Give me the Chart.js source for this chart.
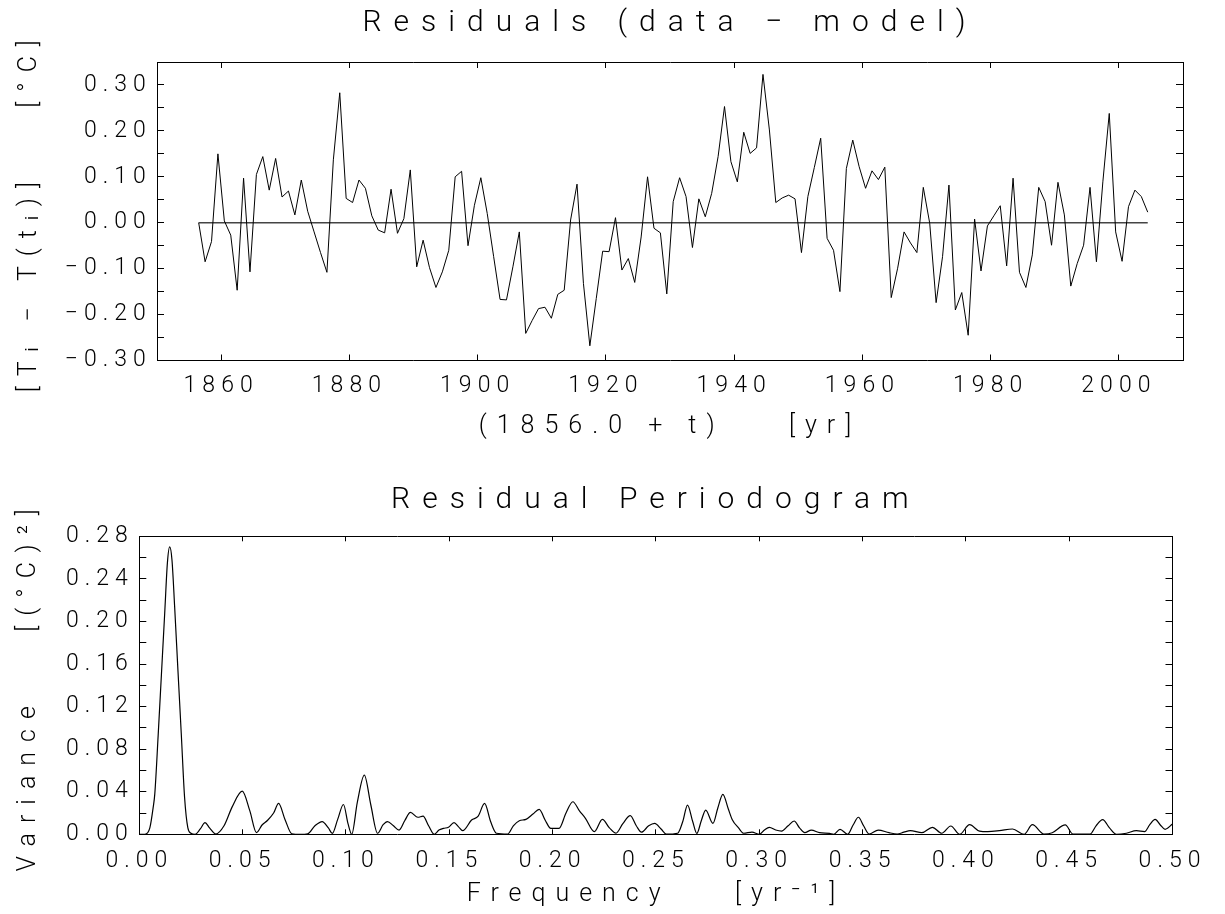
<!DOCTYPE html>
<html><head><meta charset="utf-8">
<script src="https://cdn.jsdelivr.net/npm/chart.js@4"></script>
<style>
html,body{margin:0;padding:0;background:#fff;}
#wrap{position:relative;width:1225px;height:914px;background:#fff;}
canvas{position:absolute;left:0;}
#c1{top:0;} #c2{top:450px;}
</style></head><body>
<div id="wrap"><canvas id="c1" width="1225" height="450"></canvas><canvas id="c2" width="1225" height="464"></canvas></div>
<script>
// ---------- data: top panel ----------
const years = [
1856.5,1857.5,1858.5,1859.5,
1860.5,1861.5,1862.5,1863.5,1864.5,1865.5,1866.5,1867.5,1868.5,1869.5,
1870.5,1871.5,1872.5,1873.5,1874.5,1875.5,1876.5,1877.5,1878.5,1879.5,
1880.5,1881.5,1882.5,1883.5,1884.5,1885.5,1886.5,1887.5,1888.5,1889.5,
1890.5,1891.5,1892.5,1893.5,1894.5,1895.5,1896.5,1897.5,1898.5,1899.5,
1900.5,1901.5,1902.5,1903.5,1904.5,1905.5,1906.5,1907.5,1908.5,1909.5,
1910.5,1911.5,1912.5,1913.5,1914.5,1915.5,1916.5,1917.5,1918.5,1919.5,
1920.5,1921.5,1922.5,1923.5,1924.5,1925.5,1926.5,1927.5,1928.5,1929.5,
1930.5,1931.5,1932.5,1933.5,1934.5,1935.5,1936.5,1937.5,1938.5,1939.5,
1940.5,1941.5,1942.5,1943.5,1944.5,1945.5,1946.5,1947.5,1948.5,1949.5,
1950.5,1951.5,1952.5,1953.5,1954.5,1955.5,1956.5,1957.5,1958.5,1959.5,
1960.5,1961.5,1962.5,1963.5,1964.5,1965.5,1966.5,1967.5,1968.5,1969.5,
1970.5,1971.5,1972.5,1973.5,1974.5,1975.5,1976.5,1977.5,1978.5,1979.5,
1980.5,1981.5,1982.5,1983.5,1984.5,1985.5,1986.5,1987.5,1988.5,1989.5,
1990.5,1991.5,1992.5,1993.5,1994.5,1995.5,1996.5,1997.5,1998.5,1999.5,
2000.5,2001.5,2002.5,2003.5,2004.5];
const residuals = [
0.000,-0.085,-0.041,0.150,
0.004,-0.027,-0.147,0.097,-0.107,0.105,0.144,0.071,0.140,0.056,
0.069,0.017,0.093,0.025,-0.020,-0.065,-0.108,0.137,0.283,0.053,
0.044,0.093,0.075,0.015,-0.016,-0.022,0.073,-0.023,0.009,0.115,
-0.096,-0.038,-0.098,-0.141,-0.107,-0.060,0.100,0.112,-0.050,0.038,
0.098,0.020,-0.074,-0.167,-0.168,-0.096,-0.020,-0.241,-0.213,-0.187,
-0.184,-0.208,-0.156,-0.147,0.006,0.084,-0.132,-0.268,-0.165,-0.062,
-0.063,0.011,-0.103,-0.078,-0.130,-0.031,0.100,-0.012,-0.022,-0.155,
0.046,0.098,0.057,-0.054,0.052,0.013,0.064,0.144,0.253,0.133,
0.089,0.197,0.151,0.163,0.323,0.202,0.044,0.054,0.060,0.052,
-0.065,0.057,0.120,0.184,-0.034,-0.060,-0.150,0.118,0.180,0.122,
0.075,0.113,0.094,0.121,-0.163,-0.099,-0.020,-0.044,-0.065,0.077,
-0.001,-0.174,-0.074,0.082,-0.190,-0.152,-0.245,0.008,-0.105,-0.007,
0.015,0.037,-0.094,0.097,-0.108,-0.141,-0.070,0.077,0.046,-0.049,
0.088,0.017,-0.138,-0.089,-0.049,0.077,-0.085,0.089,0.238,-0.020,
-0.084,0.035,0.071,0.057,0.023];
const zeroLineX = [1856.5, 2004.5];
const zeroLineY = [0, 0];
const xTicksTop = [1860,1880,1900,1920,1940,1960,1980,2000];
const yTicksTop = [-0.30,-0.25,-0.20,-0.15,-0.10,-0.05,0.00,0.05,0.10,0.15,0.20,0.25,0.30,0.35];
const yLabelsTop = [-0.30,-0.20,-0.10,0.00,0.10,0.20,0.30];

// ---------- data: bottom panel ----------
const freqs = [
0.0000,0.0027,0.0051,0.0067,0.0075,0.0091,0.0107,0.0123,0.0136,0.0147,
0.0158,0.0171,0.0187,0.0203,0.0219,0.0235,0.0250,0.0270,0.0295,0.0318,
0.0340,0.0370,0.0410,0.0450,0.0498,0.0535,0.0567,0.0595,0.0620,0.0650,
0.0674,0.0705,0.0738,0.0780,0.0815,0.0850,0.0885,0.0915,0.0934,0.0960,
0.0988,0.1010,0.1028,0.1055,0.1089,0.1120,0.1153,0.1180,0.1201,0.1230,
0.1257,0.1285,0.1312,0.1348,0.1373,0.1400,0.1427,0.1450,0.1472,0.1496,
0.1523,0.1545,0.1565,0.1608,0.1640,0.1671,0.1700,0.1728,0.1783,0.1810,
0.1839,0.1871,0.1905,0.1935,0.1965,0.1991,0.2031,0.2065,0.2098,0.2130,
0.2159,0.2202,0.2241,0.2275,0.2307,0.2340,0.2376,0.2405,0.2430,0.2465,
0.2494,0.2525,0.2550,0.2605,0.2630,0.2653,0.2678,0.2698,0.2720,0.2741,
0.2776,0.2800,0.2824,0.2850,0.2869,0.2900,0.2925,0.2965,0.3001,0.3025,
0.3049,0.3080,0.3108,0.3140,0.3169,0.3195,0.3220,0.3252,0.3292,0.3340,
0.3360,0.3391,0.3428,0.3455,0.3480,0.3505,0.3532,0.3576,0.3628,0.3668,
0.3700,0.3731,0.3787,0.3838,0.3883,0.3927,0.3970,0.4018,0.4066,0.4106,
0.4162,0.4226,0.4282,0.4322,0.4378,0.4418,0.4481,0.4518,0.4601,0.4630,
0.4662,0.4695,0.4729,0.4777,0.4825,0.4865,0.4890,0.4916,0.4940,0.4964,
0.5000];
const variance = [
0.0000,0.0000,0.0060,0.0250,0.0380,0.0920,0.1500,0.2080,0.2550,0.2700,
0.2580,0.2140,0.1540,0.0950,0.0350,0.0060,0.0010,0.0000,0.0050,0.0110,
0.0060,0.0003,0.0080,0.0260,0.0406,0.0220,0.0016,0.0090,0.0130,0.0200,
0.0290,0.0140,0.0005,0.0000,0.0005,0.0080,0.0120,0.0060,0.0008,0.0140,
0.0280,0.0100,0.0000,0.0300,0.0556,0.0280,0.0010,0.0090,0.0120,0.0080,
0.0040,0.0130,0.0206,0.0160,0.0170,0.0080,0.0000,0.0040,0.0056,0.0066,
0.0110,0.0070,0.0034,0.0134,0.0170,0.0290,0.0120,0.0010,0.0003,0.0080,
0.0128,0.0140,0.0190,0.0234,0.0130,0.0056,0.0056,0.0200,0.0306,0.0220,
0.0150,0.0025,0.0140,0.0060,0.0010,0.0100,0.0175,0.0080,0.0020,0.0080,
0.0103,0.0050,0.0002,0.0010,0.0120,0.0275,0.0120,0.0008,0.0130,0.0228,
0.0103,0.0250,0.0375,0.0240,0.0140,0.0060,0.0010,0.0020,0.0000,0.0040,
0.0066,0.0040,0.0030,0.0080,0.0125,0.0060,0.0015,0.0040,0.0015,0.0008,
0.0000,0.0047,0.0000,0.0090,0.0160,0.0080,0.0003,0.0040,0.0015,0.0003,
0.0020,0.0034,0.0015,0.0066,0.0010,0.0078,0.0000,0.0090,0.0030,0.0025,
0.0034,0.0050,0.0000,0.0090,0.0003,0.0015,0.0088,0.0003,0.0003,0.0080,
0.0138,0.0060,0.0000,0.0010,0.0034,0.0025,0.0090,0.0140,0.0090,0.0047,
0.0097];
const xTicksBottom = [0.00,0.05,0.10,0.15,0.20,0.25,0.30,0.35,0.40,0.45,0.50];
const yTicksBottom = [0.00,0.02,0.04,0.06,0.08,0.10,0.12,0.14,0.16,0.18,0.20,0.22,0.24,0.26,0.28];
const yLabelsBottom = [0.00,0.04,0.08,0.12,0.16,0.20,0.24,0.28];

// ---------- styling / helpers ----------
const FONT = "Roboto, 'DejaVu Sans', 'Liberation Sans', sans-serif";
Chart.defaults.font.family = FONT;
Chart.defaults.font.weight = '300';
Chart.defaults.color = '#000';

const TICK_LS = '6px', AXT_LS = '10px', TITLE_LS = '12px';
const spacingPlugin = {
  id: 'spacing',
  beforeUpdate(chart) { chart.ctx.letterSpacing = TICK_LS; },
  beforeDraw(chart) {
    const ctx = chart.ctx;
    ctx.letterSpacing = TICK_LS;
    const tb = chart.titleBlock;
    if (tb && !tb._lsPatched) {
      const orig = tb.draw.bind(tb);
      tb.draw = function(a) { ctx.letterSpacing = TITLE_LS; orig(a); ctx.letterSpacing = TICK_LS; };
      tb._lsPatched = true;
    }
    Object.values(chart.scales).forEach(s => {
      if (!s._lsPatched) {
        const orig = s.drawTitle.bind(s);
        s.drawTitle = function() { ctx.letterSpacing = AXT_LS; orig(); ctx.letterSpacing = TICK_LS; };
        s._lsPatched = true;
      }
    });
  }
};

const fmt = v => (v < -1e-9 ? '\u2212' : '') + Math.abs(v).toFixed(2);
const inList = (list, v) => list.some(l => Math.abs(l - v) < 1e-9);
const setTicks = arr => s => { s.ticks = arr.map(v => ({value: v})); };

function gridOpts(len) {
  return {drawOnChartArea: false, drawTicks: true, tickLength: -len, tickColor: '#000', tickWidth: 1};
}
const borderOpts = {display: true, color: '#000', width: 1};
const TICK_FONT = {size: 23};
const AXT_FONT = {size: 25};
const TITLE_FONT = {size: 30, weight: '300', lineHeight: 1.2};

// ---------- top chart ----------
new Chart(document.getElementById('c1'), {
  type: 'line',
  data: {
    datasets: [
      {data: years.map((x, i) => ({x: x, y: residuals[i]})), borderColor: '#000', borderWidth: 1, pointRadius: 0, tension: 0, fill: false},
      {data: zeroLineX.map((x, i) => ({x: x, y: zeroLineY[i]})), borderColor: '#444', borderWidth: 1.3, pointRadius: 0, fill: false}
    ]
  },
  plugins: [spacingPlugin],
  options: {
    responsive: false, animation: false, events: [],
    layout: {padding: {left: 0, right: 42, top: 0, bottom: 0}},
    plugins: {
      legend: {display: false}, tooltip: {enabled: false},
      title: {display: true, fullSize: false, text: 'Residuals (data \u2212 model)', color: '#000',
              font: TITLE_FONT, padding: {top: 5, bottom: 21}}
    },
    scales: {
      x: {type: 'linear', position: 'bottom', min: 1850, max: 2010,
          afterBuildTicks: setTicks(xTicksTop), afterFit: s => { s.height = 89.5; },
          ticks: {autoSkip: false, maxRotation: 0, padding: 18.4, color: '#000', font: TICK_FONT, callback: v => String(v)},
          grid: gridOpts(6), border: borderOpts,
          title: {display: true, text: '(1856.0 + t)    [yr]', color: '#000', font: AXT_FONT, padding: {top: 0, bottom: 8}}},
      x2: {type: 'linear', position: 'top', min: 1850, max: 2010,
          afterBuildTicks: setTicks(xTicksTop), afterFit: s => { s.height = 0; },
          ticks: {display: false}, grid: gridOpts(6), border: borderOpts},
      y: {type: 'linear', position: 'left', min: -0.30, max: 0.35,
          afterBuildTicks: setTicks(yTicksTop), afterFit: s => { s.width = 157; },
          ticks: {autoSkip: false, padding: 12.3, color: '#000', font: TICK_FONT,
                  callback: v => inList(yLabelsTop, v) ? fmt(v) : ''},
          grid: gridOpts(7), border: borderOpts,
          title: {display: true, text: '[T\u1d62 \u2212 T(t\u1d62)]    [\u00b0C]', color: '#000', font: AXT_FONT, padding: {top: 15, bottom: 0}}},
      y2: {type: 'linear', position: 'right', min: -0.30, max: 0.35,
          afterBuildTicks: setTicks(yTicksTop), afterFit: s => { s.width = 0; },
          ticks: {display: false}, grid: gridOpts(7), border: borderOpts}
    }
  }
});

// ---------- bottom chart ----------
new Chart(document.getElementById('c2'), {
  type: 'line',
  data: {
    datasets: [
      {data: freqs.map((x, i) => ({x: x, y: variance[i]})), borderColor: '#000', borderWidth: 1.2, pointRadius: 0,
       cubicInterpolationMode: 'monotone', fill: false}
    ]
  },
  plugins: [spacingPlugin],
  options: {
    responsive: false, animation: false, events: [],
    layout: {padding: {left: 0, right: 41.7, top: 0, bottom: 0}},
    plugins: {
      legend: {display: false}, tooltip: {enabled: false},
      title: {display: true, fullSize: false, text: 'Residual Periodogram', color: '#000',
              font: TITLE_FONT, padding: {top: 32, bottom: 18.3}}
    },
    scales: {
      x: {type: 'linear', position: 'bottom', min: 0, max: 0.5,
          afterBuildTicks: setTicks(xTicksBottom), afterFit: s => { s.height = 464 - 384.3; },
          ticks: {autoSkip: false, maxRotation: 0, padding: 18.6, color: '#000', font: TICK_FONT, callback: v => fmt(v)},
          grid: gridOpts(5), border: borderOpts,
          title: {display: true, text: 'Frequency    [yr\u207b\u00b9]', color: '#000', font: AXT_FONT, padding: {top: 0, bottom: 4}}},
      x2: {type: 'linear', position: 'top', min: 0, max: 0.5,
          afterBuildTicks: setTicks(xTicksBottom), afterFit: s => { s.height = 0; },
          ticks: {display: false}, grid: gridOpts(5), border: borderOpts},
      y: {type: 'linear', position: 'left', min: 0, max: 0.28,
          afterBuildTicks: setTicks(yTicksBottom), afterFit: s => { s.width = 139.3; },
          ticks: {autoSkip: false, padding: 12.6, color: '#000', font: TICK_FONT,
                  callback: v => inList(yLabelsBottom, v) ? fmt(v) : ''},
          grid: gridOpts(7), border: borderOpts,
          title: {display: true, text: 'Variance    [(\u00b0C)\u00b2]', color: '#000', font: AXT_FONT, padding: {top: 14, bottom: 0}}},
      y2: {type: 'linear', position: 'right', min: 0, max: 0.28,
          afterBuildTicks: setTicks(yTicksBottom), afterFit: s => { s.width = 0; },
          ticks: {display: false}, grid: gridOpts(7), border: borderOpts}
    }
  }
});
</script>
</body></html>
